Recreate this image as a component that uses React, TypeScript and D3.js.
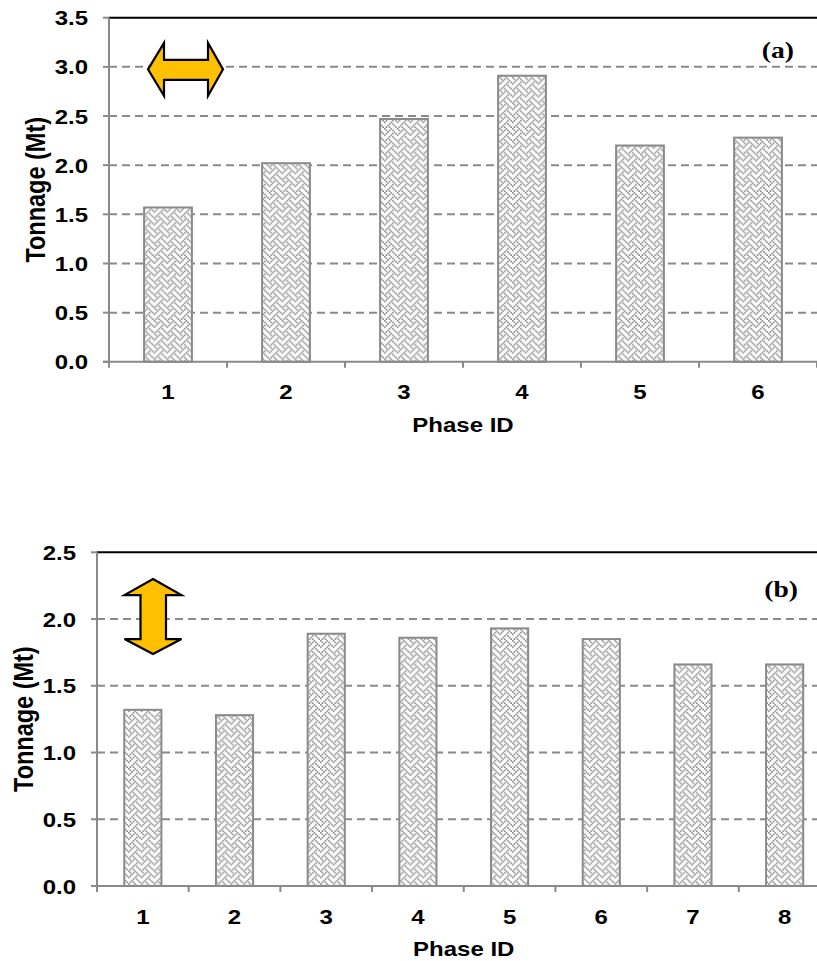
import React from "react";
import * as d3 from "d3";

// Tonnage per mining phase, panel (a)
const phasesA = ["1", "2", "3", "4", "5", "6"];
const tonnageA = [1.57, 2.02, 2.47, 2.91, 2.2, 2.28];
const ticksA = [0, 0.5, 1.0, 1.5, 2.0, 2.5, 3.0, 3.5];

// Tonnage per mining phase, panel (b)
const phasesB = ["1", "2", "3", "4", "5", "6", "7", "8"];
const tonnageB = [1.32, 1.28, 1.89, 1.86, 1.93, 1.85, 1.66, 1.66];
const ticksB = [0, 0.5, 1.0, 1.5, 2.0, 2.5];

const yLabel = "Tonnage (Mt)";
const xLabel = "Phase ID";

// 8x8 "weave" hatch bitmap used to fill the bars
const weaveRows = [0x88, 0x54, 0x22, 0x45, 0x88, 0x14, 0x22, 0x51];

const SANS = "'Liberation Sans', Arial, sans-serif";
const SERIF = "'Liberation Serif', 'Times New Roman', serif";
const AXIS = "#8a8a8a";
const SX = 1.2; // horizontal widening of the lettering

type PanelProps = {
  phases: string[];
  values: number[];
  ticks: number[];
  left: number;
  right: number;
  top: number;
  bottom: number;
  tag: string;
  tagX: number;
  tagY: number;
  arrow: "h" | "v";
};

function Label(props: { x: number; y: number; anchor: string; size: number; family?: string; rotate?: boolean; children: string }) {
  const rot = props.rotate ? " rotate(-90)" : "";
  return (
    <text
      transform={`translate(${props.x},${props.y}) scale(${SX},1)${rot}`}
      textAnchor={props.anchor}
      fontFamily={props.family || SANS}
      fontWeight="bold"
      fontSize={props.size}
      fill="#000"
    >
      {props.children}
    </text>
  );
}

function Panel(p: PanelProps) {
  const yMax = p.ticks[p.ticks.length - 1];
  const y = d3.scaleLinear().domain([0, yMax]).range([p.bottom, p.top]);
  const x = d3.scaleBand<string>().domain(p.phases).range([p.left, p.right]).padding(0);
  const bw = x.bandwidth();
  const barW = bw * 0.405;
  const fmt = d3.format(".1f");
  const plotMid = (p.left + p.right) / 2;

  // category boundary ticks on the x axis
  const bounds = p.phases.map((d) => x(d) as number).concat([p.right]);

  let arrowPath = "";
  if (p.arrow === "h") {
    const cy = y(3.0) + 2.5;
    const l = p.left + 39;
    const r = p.left + 114;
    arrowPath = `M${l},${cy} L${l + 16},${cy - 26.5} L${l + 16},${cy - 9.5} L${r - 15},${cy - 9.5} L${r - 15},${cy - 26.5} L${r},${cy} L${r - 15},${cy + 26.5} L${r - 15},${cy + 10.5} L${l + 16},${cy + 10.5} L${l + 16},${cy + 26.5} Z`;
  } else {
    const cx = p.left + 56;
    const t = y(2.0) - 40;
    const b = y(2.0) + 35;
    arrowPath = `M${cx},${t} L${cx + 28.5},${t + 16} L${cx + 13},${t + 16} L${cx + 13},${b - 15} L${cx + 28.5},${b - 15} L${cx},${b} L${cx - 28.5},${b - 15} L${cx - 12.5},${b - 15} L${cx - 12.5},${t + 16} L${cx - 28.5},${t + 16} Z`;
  }

  return (
    <g>
      {/* dashed gridlines */}
      {p.ticks
        .filter((t) => t > 0 && t < yMax)
        .map((t) => (
          <line
            key={"g" + t}
            x1={p.left}
            x2={817}
            y1={y(t)}
            y2={y(t)}
            stroke={AXIS}
            strokeWidth={2}
            strokeDasharray="8,5"
          />
        ))}
      {/* top border */}
      <line x1={p.left} x2={817} y1={y(yMax)} y2={y(yMax)} stroke="#000" strokeWidth={2} />

      {/* bars */}
      {p.values.map((v, i) => {
        const cx = (x(p.phases[i]) as number) + bw / 2;
        return (
          <rect
            key={"b" + i}
            x={cx - barW / 2}
            y={y(v)}
            width={barW}
            height={y(0) - y(v)}
            fill="url(#weave)"
            stroke={AXIS}
            strokeWidth={2}
          />
        );
      })}

      {/* y axis */}
      <line x1={p.left} x2={p.left} y1={y(yMax)} y2={y(0)} stroke={AXIS} strokeWidth={2} />
      {p.ticks.map((t) => (
        <g key={"yt" + t}>
          <line x1={p.left - 6} x2={p.left} y1={y(t)} y2={y(t)} stroke={AXIS} strokeWidth={2} />
          <Label x={p.left - 21} y={y(t) + 7.5} anchor="end" size={20}>
            {fmt(t)}
          </Label>
        </g>
      ))}

      {/* x axis */}
      <line x1={p.left - 6} x2={817} y1={y(0)} y2={y(0)} stroke={AXIS} strokeWidth={2} />
      {bounds.map((b, i) => (
        <line key={"xt" + i} x1={b} x2={b} y1={y(0)} y2={y(0) + 6} stroke={AXIS} strokeWidth={2} />
      ))}
      {p.phases.map((d) => (
        <Label key={"xl" + d} x={(x(d) as number) + bw / 2} y={y(0) + 37.5} anchor="middle" size={20}>
          {d}
        </Label>
      ))}

      {/* axis titles */}
      <Label x={plotMid} y={y(0) + 70} anchor="middle" size={20}>
        {xLabel}
      </Label>
      <Label x={p.left - 64} y={(y(0) + y(yMax)) / 2} anchor="middle" size={23.5} rotate>
        {yLabel}
      </Label>

      {/* panel tag */}
      <Label x={p.tagX} y={p.tagY} anchor="end" size={23} family={SERIF}>
        {p.tag}
      </Label>

      {/* direction arrow */}
      <path d={arrowPath} fill="#FFC000" stroke="#000" strokeWidth={2.2} strokeLinejoin="miter" />
    </g>
  );
}

export default function App() {
  const cell = 1.6;
  const cells: { cx: number; cy: number }[] = [];
  weaveRows.forEach((row, r) => {
    for (let c = 0; c < 8; c++) {
      if (row & (0x80 >> c)) cells.push({ cx: c, cy: r });
    }
  });

  return (
    <svg
      width={817}
      height={961}
      style={{ position: "absolute", left: 0, top: 0, background: "#fff" }}
    >
      <defs>
        <pattern id="weave" patternUnits="userSpaceOnUse" width={8 * cell} height={8 * cell}>
          <rect width={8 * cell} height={8 * cell} fill="#fff" />
          {cells.map((c, i) => (
            <rect key={i} x={c.cx * cell} y={c.cy * cell} width={cell} height={cell} fill="#868686" />
          ))}
        </pattern>
      </defs>
      <rect width={817} height={961} fill="#fff" />
      <Panel
        phases={phasesA}
        values={tonnageA}
        ticks={ticksA}
        left={109}
        right={817}
        top={17.7}
        bottom={361.8}
        tag="(a)"
        tagX={794}
        tagY={58}
        arrow="h"
      />
      <Panel
        phases={phasesB}
        values={tonnageB}
        ticks={ticksB}
        left={97}
        right={830.5}
        top={552.3}
        bottom={886}
        tag="(b)"
        tagX={798}
        tagY={597}
        arrow="v"
      />
    </svg>
  );
}
